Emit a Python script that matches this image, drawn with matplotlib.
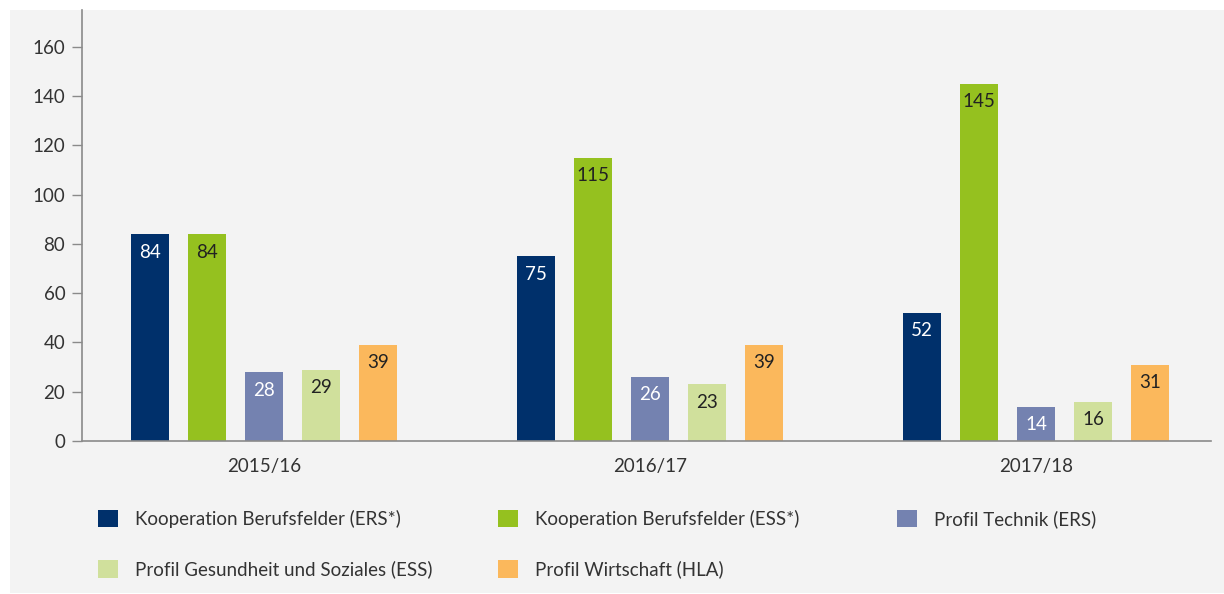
import numpy as np
import matplotlib.pyplot as plt
from matplotlib.patches import Rectangle, Patch

years = ["2015/16", "2016/17", "2017/18"]
series_names = [
    "Kooperation Berufsfelder (ERS*)",
    "Kooperation Berufsfelder (ESS*)",
    "Profil Technik (ERS)",
    "Profil Gesundheit und Soziales (ESS)",
    "Profil Wirtschaft (HLA)",
]
koop_ers = [84, 75, 52]
koop_ess = [84, 115, 145]
technik_ers = [28, 26, 14]
gesundheit_ess = [29, 23, 16]
wirtschaft_hla = [39, 39, 31]

colors = ["#00306b", "#95c11f", "#7482b0", "#d0e09c", "#fbb85c"]
label_colors = ["white", "#222222", "white", "#222222", "#222222"]

plt.rcParams['font.family'] = ['Lato', 'DejaVu Sans']
fs = 13.5

fig = plt.figure(figsize=(12.24, 5.94), dpi=100, facecolor="white")
fig.patches.append(Rectangle((10 / 1224, 1 / 594), 1, 1 - 11 / 594, transform=fig.transFigure,
                             facecolor="#f3f3f3", edgecolor="none", zorder=-10))

ax = fig.add_axes([82 / 1224, 1 - 441 / 594, (1211 - 82) / 1224, (441 - 10) / 594])
ax.set_facecolor("none")

x = np.arange(len(years))
step = 0.1477
width = 0.0984
all_series = [koop_ers, koop_ess, technik_ers, gesundheit_ess, wirtschaft_hla]
for i, vals in enumerate(all_series):
    pos = x + (i - 2) * step
    ax.bar(pos, vals, width=width, color=colors[i], zorder=2)
    for px, v in zip(pos, vals):
        ax.annotate(str(v), (px, v), xytext=(0, -18), textcoords="offset pixels",
                    ha="center", va="center", fontsize=fs, color=label_colors[i])

ax.set_xlim(-0.4715, 2.4534)
ax.set_ylim(0, 175)
ax.set_yticks(np.arange(0, 161, 20))
ax.set_xticks(x)
ax.set_xticklabels(years)

for s in ["top", "right"]:
    ax.spines[s].set_visible(False)
ax.spines["left"].set_color("#8a8a8a")
ax.spines["bottom"].set_color("#8a8a8a")
ax.spines["left"].set_linewidth(1.2)
ax.spines["bottom"].set_linewidth(1.2)
ax.tick_params(axis="y", length=7, width=1, color="#8a8a8a", pad=5, labelsize=fs, labelcolor="#333333")
ax.tick_params(axis="x", length=0, pad=12, labelsize=fs, labelcolor="#333333")

# legend in three columns, row-wise order like the original
columns = [[0, 3], [1, 4], [2]]
col_x = [98, 498, 897]
for cols, cx in zip(columns, col_x):
    handles = [Patch(facecolor=colors[k], edgecolor="none") for k in cols]
    labels = [series_names[k] for k in cols]
    fig.legend(handles, labels, loc="upper left", bbox_to_anchor=(cx / 1224, 1 - 510 / 594),
               frameon=False, fontsize=fs, handlelength=1.05, handleheight=1.05,
               handletextpad=0.9, labelspacing=1.72, borderpad=0, borderaxespad=0,
               labelcolor="#333333")

fig.savefig("out.png", dpi=100, facecolor=fig.get_facecolor())
